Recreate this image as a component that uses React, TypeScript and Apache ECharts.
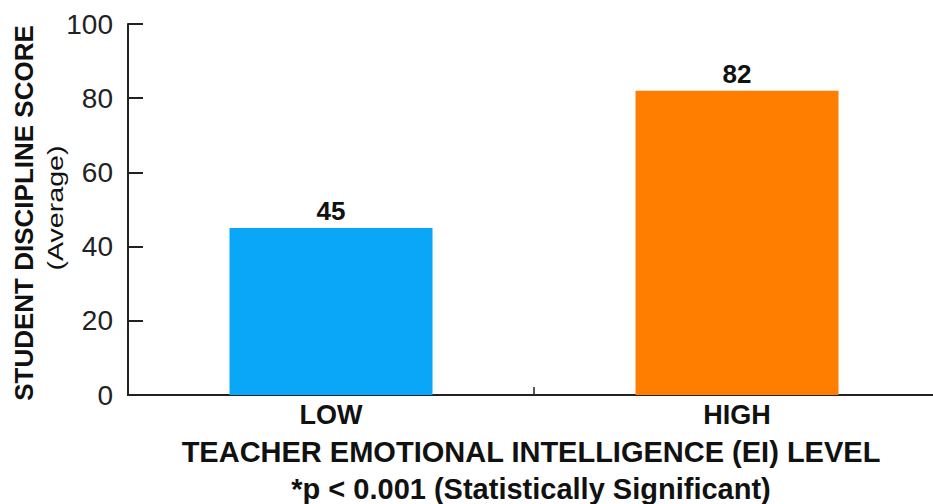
import React, { useEffect, useRef } from "react";
import * as echarts from "echarts";

const categories = ["LOW", "HIGH"];
const scores = [45, 82];
const barColors = ["#0AA6F7", "#FF7E00"];
const yTicks = [0, 20, 40, 60, 80, 100];
const yTitle = "STUDENT DISCIPLINE SCORE";
const ySubTitle = "(Average)";
const xTitle = "TEACHER EMOTIONAL INTELLIGENCE (EI) LEVEL";
const note = "*p < 0.001 (Statistically Significant)";

const FONT = "'Liberation Sans', Arial, sans-serif";

export default function App() {
  const ref = useRef<HTMLDivElement>(null);
  useEffect(() => {
    if (!ref.current) return;
    const chart = echarts.init(ref.current, null, { renderer: "svg" });
    chart.setOption({
      animation: false,
      backgroundColor: "#ffffff",
      grid: { left: 128, right: 0, top: 24, bottom: 109, containLabel: false },
      xAxis: {
        type: "category",
        data: categories,
        axisLine: { lineStyle: { color: "#222", width: 2 } },
        axisTick: { show: true, inside: true, length: 8, lineStyle: { color: "#222", width: 1.5 } },
        axisLabel: {
          margin: 6,
          fontSize: 27,
          fontWeight: "bold",
          color: "#111",
          fontFamily: FONT,
        },
      },
      yAxis: {
        type: "value",
        min: yTicks[0],
        max: yTicks[yTicks.length - 1],
        interval: 20,
        splitLine: { show: false },
        axisLine: { show: true, lineStyle: { color: "#222", width: 2 } },
        axisTick: { show: true, inside: true, length: 15, lineStyle: { color: "#222", width: 2 } },
        axisLabel: {
          margin: 15,
          fontSize: 28,
          color: "#222",
          fontFamily: FONT,
        },
      },
      series: [
        {
          type: "bar",
          barWidth: "50%",
          data: scores.map((v, i) => ({ value: v, itemStyle: { color: barColors[i] } })),
          label: {
            show: true,
            position: "top",
            distance: 4,
            fontSize: 26,
            fontWeight: "bold",
            color: "#111",
            fontFamily: FONT,
          },
        },
      ],
      graphic: [
        {
          type: "text",
          x: 24,
          y: 213,
          rotation: Math.PI / 2,
          style: {
            text: yTitle,
            fontSize: 26,
            fontWeight: "bold",
            fill: "#111",
            fontFamily: FONT,
            align: "center",
            verticalAlign: "middle",
          },
        },
        {
          type: "text",
          x: 55,
          y: 208,
          rotation: Math.PI / 2,
          scaleX: 1.3,
          style: {
            text: ySubTitle,
            fontSize: 22,
            fill: "#111",
            fontFamily: FONT,
            align: "center",
            verticalAlign: "middle",
          },
        },
        {
          type: "text",
          x: 531,
          y: 452,
          style: {
            text: xTitle,
            fontSize: 29,
            fontWeight: "bold",
            fill: "#111",
            fontFamily: FONT,
            align: "center",
            verticalAlign: "middle",
          },
        },
        {
          type: "text",
          x: 531,
          y: 489,
          style: {
            text: note,
            fontSize: 29,
            fontWeight: "bold",
            fill: "#111",
            fontFamily: FONT,
            align: "center",
            verticalAlign: "middle",
          },
        },
      ],
    });
    return () => chart.dispose();
  }, []);
  return (
    <div
      ref={ref}
      style={{ position: "fixed", left: 0, top: 0, width: 940, height: 504 }}
    />
  );
}
